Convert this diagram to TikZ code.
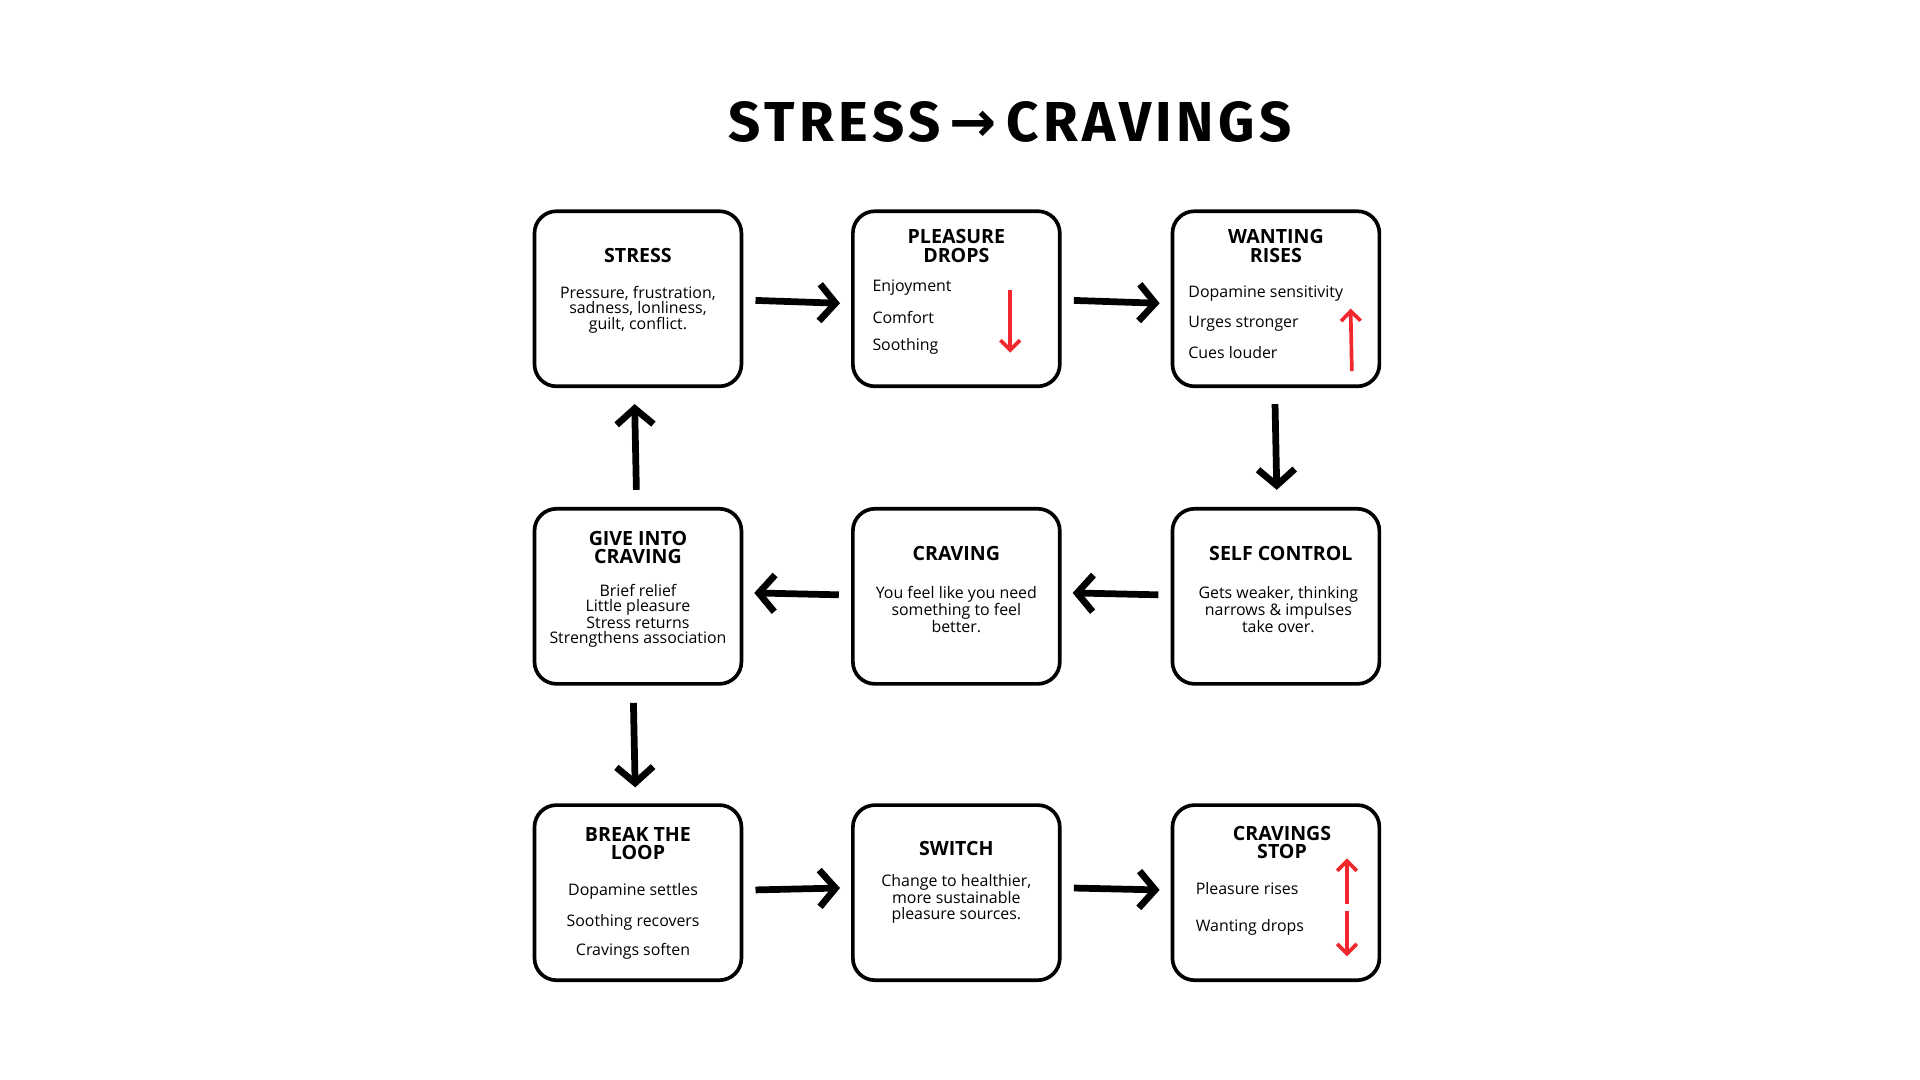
\documentclass[tikz,border=0pt]{standalone}
\usepackage{fontspec}
\setmainfont{Open Sans}
\newfontfamily\titlefont[LetterSpace=8]{Fira Sans}
\newfontfamily\djv{DejaVu Sans}
\usetikzlibrary{arrows.meta}
\definecolor{arrred}{RGB}{240,40,45}
\begin{document}
\begin{tikzpicture}[x=1pt,y=-1pt,
  box/.style={draw,line width=3pt,rounded corners=18pt,minimum width=169pt,minimum height=143pt},
  hd/.style={font=\fontsize{16}{15}\selectfont\bfseries,align=center},
  bd/.style={font=\fontsize{13}{12.5}\selectfont,align=center},
  it/.style={font=\fontsize{13}{12.5}\selectfont,anchor=west},
  flow/.style={line width=5.5pt,-{Straight Barb[length=13pt,width=30pt]},shorten <=10pt,shorten >=9pt},
  red/.style={draw=arrred,line width=3pt,-{Straight Barb[length=8pt,width=16pt]}}]
\useasboundingbox (0,0) rectangle (1568,882);
\node[font=\titlefont\fontsize{46}{46}\selectfont\bfseries] (title) at (825,100) {STRESS\,{\djv→}\,CRAVINGS};
% boxes
\node[box] (stress) at (521,244) {};
\node[box] (pleas) at (781,244) {};
\node[box] (want) at (1042,244) {};
\node[box] (give) at (521,487) {};
\node[box] (crav) at (781,487) {};
\node[box] (self) at (1042,487) {};
\node[box] (brk) at (521,729) {};
\node[box] (sw) at (781,729) {};
\node[box] (stop) at (1042,729) {};
% texts
\node[hd] (t1) at (521,209) {STRESS};
\node[bd] (b1) at (521,253) {Pressure, frustration,\\sadness, lonliness,\\guilt, conflict.};
\node[hd] (t2) at (781,201) {PLEASURE\\DROPS};
\node[it] (p1) at (709,235) {Enjoyment};
\node[it] (p2) at (709,259) {Comfort};
\node[it] (p3) at (709,283) {Soothing};
\coordinate (ra1) at (825,237); \coordinate (ra2) at (825,288);
\draw[red] (ra1) -- (ra2);
\node[hd] (t3) at (1042,201) {WANTING\\RISES};
\node[it] (w1) at (967,240) {Dopamine sensitivity};
\node[it] (w2) at (967,264) {Urges stronger};
\node[it] (w3) at (967,288) {Cues louder};
\coordinate (rb1) at (1104,303); \coordinate (rb2) at (1103,252);
\draw[red] (rb1) -- (rb2);
\node[hd] (t4) at (1046,452) {SELF CONTROL};
\node[bd] (b4) at (1044,498) {Gets weaker, thinking\\narrows \& impulses\\take over.};
\node[hd] (t5) at (781,452) {CRAVING};
\node[bd] (b5) at (781,498) {You feel like you need\\something to feel\\better.};
\node[hd] (t6) at (521,447) {GIVE INTO\\CRAVING};
\node[bd] (b6) at (521,503) {Brief relief\\Little pleasure\\Stress returns\\Strengthens association};
\node[hd] (t7) at (521,689) {BREAK THE\\LOOP};
\node[bd] (k1) at (517,728) {Dopamine settles};
\node[bd] (k2) at (517,753) {Soothing recovers};
\node[bd] (k3) at (517,777) {Cravings soften};
\node[hd] (t8) at (781,693) {SWITCH};
\node[bd] (b8) at (781,734) {Change to healthier,\\more sustainable\\pleasure sources.};
\node[hd] (t9) at (1047,688) {CRAVINGS\\STOP};
\node[it] (s1) at (973,726) {Pleasure rises};
\node[it] (s2) at (973,757) {Wanting drops};
\coordinate (rc1) at (1100,738); \coordinate (rc2) at (1100,701);
\coordinate (rd1) at (1100,744); \coordinate (rd2) at (1100,781);
\draw[red] (rc1) -- (rc2);
\draw[red] (rd1) -- (rd2);
% flow arrows
\draw[flow] ([yshift=-1pt]stress.east) -- ([yshift=-4pt]pleas.west);
\draw[flow] ([yshift=-1pt]pleas.east) -- ([yshift=-4pt]want.west);
\draw[flow,shorten <=13pt,shorten >=14pt] ([xshift=-1pt]want.south) -- ([xshift=1pt]self.north);
\draw[flow] ([yshift=1pt]self.west) -- ([yshift=3pt]crav.east);
\draw[flow] ([yshift=1pt]crav.west) -- ([yshift=3pt]give.east);
\draw[flow,shorten <=14pt,shorten >=13pt] ([xshift=-1pt]give.north) -- ([xshift=-3pt]stress.south);
\draw[flow,shorten <=14pt,shorten >=13pt] ([xshift=-4pt]give.south) -- ([xshift=-2pt]brk.north);
\draw[flow] ([yshift=2pt]brk.east) -- ([yshift=4pt]sw.west);
\draw[flow] ([yshift=4pt]sw.east) -- ([yshift=2pt]stop.west);
\end{tikzpicture}
\end{document}
